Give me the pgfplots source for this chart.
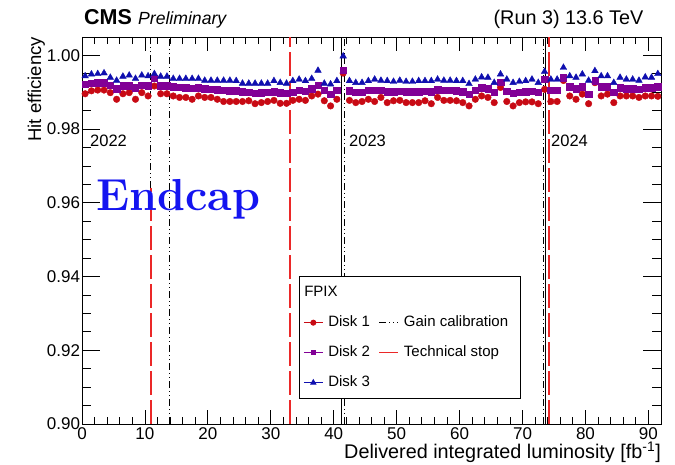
\documentclass[border=0pt]{standalone}
\usepackage{fontspec}
\setsansfont{Liberation Sans}
\usepackage{pgfplots}
\usepackage{pgfplotstable}
\pgfplotsset{compat=1.18}

\definecolor{disk1}{RGB}{200,10,20}
\definecolor{disk2}{RGB}{130,0,150}
\definecolor{disk3}{RGB}{15,15,175}
\definecolor{techred}{RGB}{235,40,40}
\definecolor{endcapblue}{RGB}{20,20,240}

% hit efficiency per FPIX disk vs delivered luminosity
\pgfplotstableread{
x d1 d2 d3
0.5 0.9896 0.9922 0.9944
1.5 0.9904 0.9925 0.9949
2.5 0.9906 0.9926 0.9950
3.5 0.9906 0.9926 0.9952
4.5 0.9899 0.9920 0.9940
5.5 0.9881 0.9910 0.9932
6.5 0.9896 0.9918 0.9943
7.5 0.9899 0.9918 0.9946
8.5 0.9881 0.9912 0.9937
9.5 0.9899 0.9920 0.9946
10.5 0.9890 0.9918 0.9944
11.5 0.9917 0.9938 0.9950
12.5 0.9896 0.9918 0.9943
13.5 0.9896 0.9918 0.9943
14.5 0.9890 0.9915 0.9937
15.5 0.9886 0.9913 0.9937
16.5 0.9886 0.9912 0.9937
17.5 0.9881 0.9911 0.9937
18.5 0.9890 0.9912 0.9937
19.5 0.9886 0.9910 0.9932
20.5 0.9886 0.9909 0.9932
21.5 0.9881 0.9907 0.9932
22.5 0.9875 0.9905 0.9932
23.5 0.9875 0.9904 0.9932
24.5 0.9875 0.9904 0.9931
25.5 0.9875 0.9902 0.9924
26.5 0.9877 0.9900 0.9924
27.5 0.9869 0.9898 0.9924
28.5 0.9872 0.9899 0.9924
29.5 0.9875 0.9900 0.9924
30.5 0.9878 0.9902 0.9931
31.5 0.9870 0.9899 0.9926
32.5 0.9870 0.9898 0.9924
33.5 0.9878 0.9901 0.9931
34.5 0.9881 0.9905 0.9935
35.5 0.9878 0.9903 0.9931
36.5 0.9890 0.9910 0.9937
37.5 0.9895 0.9920 0.9959
38.5 0.9877 0.9905 0.9924
39.5 0.9863 0.9895 0.9922
40.5 0.9881 0.9906 0.9931
41.5 0.9952 0.9960 0.9998
42.5 0.9878 0.9904 0.9931
43.5 0.9872 0.9900 0.9926
44.5 0.9875 0.9901 0.9926
45.5 0.9881 0.9905 0.9931
46.5 0.9875 0.9905 0.9935
47.5 0.9886 0.9905 0.9932
48.5 0.9872 0.9902 0.9931
49.5 0.9877 0.9902 0.9929
50.5 0.9878 0.9903 0.9932
51.5 0.9872 0.9902 0.9929
52.5 0.9872 0.9902 0.9929
53.5 0.9872 0.9902 0.9931
54.5 0.9877 0.9903 0.9931
55.5 0.9869 0.9902 0.9931
56.5 0.9886 0.9907 0.9935
57.5 0.9878 0.9905 0.9932
58.5 0.9878 0.9905 0.9932
59.5 0.9877 0.9904 0.9931
60.5 0.9872 0.9902 0.9931
61.5 0.9863 0.9895 0.9923
62.5 0.9881 0.9906 0.9935
63.5 0.9890 0.9912 0.9941
64.5 0.9886 0.9910 0.9940
65.5 0.9872 0.9900 0.9926
66.5 0.9913 0.9928 0.9949
67.5 0.9875 0.9903 0.9935
68.5 0.9863 0.9897 0.9926
69.5 0.9872 0.9901 0.9929
70.5 0.9874 0.9902 0.9931
71.5 0.9874 0.9903 0.9935
72.5 0.9869 0.9900 0.9926
73.5 0.9908 0.9935 0.9956
74.5 0.9875 0.9905 0.9935
75.5 0.9875 0.9905 0.9935
76.5 0.9932 0.9940 0.9967
77.5 0.9890 0.9915 0.9944
78.5 0.9881 0.9910 0.9940
79.5 0.9895 0.9915 0.9949
80.5 0.9869 0.9895 0.9932
81.5 0.9926 0.9931 0.9958
82.5 0.9890 0.9915 0.9944
83.5 0.9895 0.9915 0.9944
84.5 0.9872 0.9900 0.9926
85.5 0.9890 0.9912 0.9940
86.5 0.9890 0.9910 0.9935
87.5 0.9890 0.9910 0.9935
88.5 0.9886 0.9908 0.9932
89.5 0.9890 0.9912 0.9941
90.5 0.9890 0.9912 0.9940
91.5 0.9889 0.9915 0.9950
}\hiteff

\begin{document}
\begin{tikzpicture}
\useasboundingbox (0,0) rectangle (675pt,465pt);
\begin{axis}[
    at={(82pt,41pt)}, anchor=south west,
    scale only axis, width=579pt, height=387pt,
    xmin=0, xmax=92, ymin=0.9, ymax=1.005,
    xtick={0,10,...,90},
    ytick={0.90,0.92,0.94,0.96,0.98,1.00},
    minor x tick num=4, minor y tick num=3,
    tick align=inside, xtick pos=both, ytick pos=both,
    axis line style={line width=0.9pt},
    every tick/.style={black, line width=0.8pt},
    xtick style={/pgfplots/major tick length=14pt, /pgfplots/minor tick length=7pt},
    ytick style={/pgfplots/major tick length=18pt, /pgfplots/minor tick length=9pt},
    ticklabel style={font=\sffamily\fontsize{17}{17}\selectfont},
    /pgf/number format/assume math mode=true,
    scaled y ticks=false,
    yticklabel style={xshift=1.5pt, /pgf/number format/.cd, fixed, fixed zerofill, precision=2},
    legend columns=2, legend cell align=left,
    legend style={at={(0.3748,0.0646)}, anchor=south west, draw=black, line width=0.6pt, fill=white,
        font=\sffamily\fontsize{15}{15}\selectfont, inner xsep=4pt, inner ysep=8.5pt,
        row sep=15pt, column sep=5pt,
        /tikz/every even column/.append style={column sep=9pt},
        nodes={inner sep=0pt, text height=11pt, text depth=4pt}},
    legend image code/.code={\draw[mark repeat=2,mark phase=2,#1] plot coordinates {(0pt,0pt) (9.5pt,0pt) (19pt,0pt)};},
]
% technical stops
\addplot[forget plot, draw=techred, line width=1.8pt, dash pattern=on 24pt off 5pt] coordinates {(11.0,0.9) (11.0,0.964)};
\addplot[forget plot, draw=techred, line width=1.8pt, dash pattern=on 24pt off 5pt] coordinates {(33.0,0.9) (33.0,1.005)};
\addplot[forget plot, draw=techred, line width=1.8pt, dash pattern=on 24pt off 5pt] coordinates {(74.2,0.9) (74.2,1.005)};
% gain calibrations
\addplot[forget plot, black, line width=0.8pt, dash pattern=on 7pt off 3pt on 1pt off 3pt on 1pt off 3pt] coordinates {(10.9,0.964) (10.9,1.005)};
\addplot[forget plot, black, line width=0.8pt, dash pattern=on 7pt off 3pt on 1pt off 3pt on 1pt off 3pt] coordinates {(13.9,0.9) (13.9,1.005)};
\addplot[forget plot, black, line width=0.8pt, dash pattern=on 7pt off 3pt on 1pt off 3pt on 1pt off 3pt] coordinates {(41.7,0.9) (41.7,1.005)};
\addplot[forget plot, black, line width=0.8pt, dash pattern=on 7pt off 3pt on 1pt off 3pt on 1pt off 3pt] coordinates {(73.3,0.9) (73.3,1.005)};
% year boundaries
\addplot[forget plot, black, line width=0.9pt] coordinates {(41.2,0.9) (41.2,1.005)};
\addplot[forget plot, black, line width=0.9pt] coordinates {(73.6,0.9) (73.6,1.005)};

\addplot[forget plot, only marks, mark=*, mark size=3.3pt, color=disk1] table[x=x, y=d1] {\hiteff};
\addplot[forget plot, only marks, mark=square*, mark size=3.2pt, color=disk2] table[x=x, y=d2] {\hiteff};
\addplot[forget plot, only marks, mark=triangle*, mark size=3.8pt, color=disk3] table[x=x, y=d3] {\hiteff};

\addlegendimage{empty legend}\addlegendentry{\hspace*{-24pt}FPIX}
\addlegendimage{empty legend}\addlegendentry{}
\addlegendimage{disk1, mark=*, mark size=2.5pt, line width=1pt}\addlegendentry{Disk 1}
\addlegendimage{black, line width=0.8pt, dash pattern=on 7pt off 3pt on 1pt off 3pt on 1pt off 3pt}\addlegendentry{Gain calibration\hspace*{8pt}}
\addlegendimage{disk2, mark=square*, mark size=2.3pt, line width=1pt}\addlegendentry{Disk 2}
\addlegendimage{draw=techred, line width=1pt}\addlegendentry{Technical stop}
\addlegendimage{disk3, mark=triangle*, mark size=2.8pt, line width=1pt}\addlegendentry{Disk 3}
\end{axis}

\node[anchor=base west, inner sep=0pt, font=\sffamily\bfseries\fontsize{21.5}{21.5}\selectfont] at (84pt,440pt) {CMS};
\node[anchor=base west, inner sep=0pt, font=\sffamily\itshape\fontsize{17.6}{17.6}\selectfont] at (138pt,440pt) {Preliminary};
\node[anchor=base east, inner sep=0pt, font=\sffamily\fontsize{19.8}{19.8}\selectfont] at (643.5pt,440pt) {(Run 3) 13.6 TeV};
\node[anchor=base east, inner sep=0pt, font=\sffamily\fontsize{19.8}{19.8}\selectfont] at (661pt,6pt) {Delivered integrated luminosity [fb\textsuperscript{-1}]};
\node[rotate=90, anchor=base east, inner sep=0pt, font=\sffamily\fontsize{18.5}{18.5}\selectfont] at (41pt,428pt) {Hit efficiency};
\node[anchor=base west, inner sep=0pt, font=\sffamily\fontsize{16.5}{16.5}\selectfont] at (90pt,318.3pt) {2022};
\node[anchor=base west, inner sep=0pt, font=\sffamily\fontsize{16.5}{16.5}\selectfont] at (349pt,318.3pt) {2023};
\node[anchor=base west, inner sep=0pt, font=\sffamily\fontsize{16.5}{16.5}\selectfont] at (551pt,318.3pt) {2024};
\node[anchor=base west, inner sep=0pt, text=endcapblue, font=\rmfamily\bfseries\fontsize{44.8}{45}\selectfont] at (96pt,254pt) {Endcap};
\end{tikzpicture}
\end{document}
